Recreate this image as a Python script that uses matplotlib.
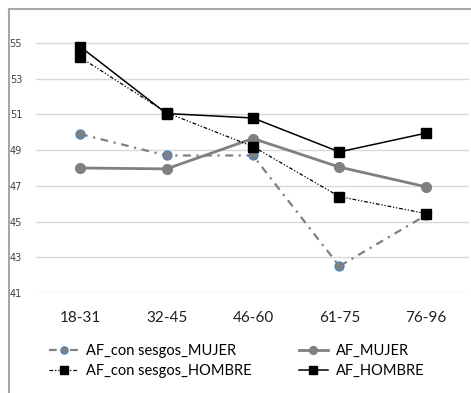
import matplotlib
matplotlib.use("Agg")
import matplotlib.pyplot as plt
from matplotlib.lines import Line2D

# age groups and series values
age_groups = ["18-31", "32-45", "46-60", "61-75", "76-96"]
af_sesgos_mujer = [49.9, 48.7, 48.7, 42.5, 45.35]
af_mujer = [48.0, 47.95, 49.65, 48.05, 46.95]
af_sesgos_hombre = [54.2, 51.1, 49.2, 46.4, 45.45]
af_hombre = [54.8, 51.05, 50.8, 48.9, 49.95]
y_ticks = [41, 43, 45, 47, 49, 51, 53, 55]

plt.rcParams["font.family"] = ["Lato", "DejaVu Sans"]

fig = plt.figure(figsize=(4.71, 3.93), dpi=100)
ax = fig.add_axes([36 / 471, 0.2545, 433 / 471, 0.7043])
xs = list(range(len(age_groups)))

ax.plot(xs, af_sesgos_mujer, color="#808080", lw=1.6,
        linestyle=(0, (3.5, 2.5, 1, 2.5)), marker="o", markersize=6.5,
        markerfacecolor="#808080", markeredgecolor="#4f81bd",
        markeredgewidth=0.9, label="AF_con sesgos_MUJER", zorder=3)
ax.plot(xs, af_mujer, color="#808080", lw=2.0, marker="o", markersize=7,
        markerfacecolor="#808080", markeredgecolor="#808080",
        label="AF_MUJER", zorder=3)
ax.plot(xs, af_sesgos_hombre, color="black", lw=0.9,
        linestyle=(0, (3, 1.5, 1, 1.5, 1, 1.5)), marker="s", markersize=7,
        markerfacecolor="black", markeredgecolor="black",
        label="AF_con sesgos_HOMBRE", zorder=4)
ax.plot(xs, af_hombre, color="black", lw=1.1, marker="s", markersize=7,
        markerfacecolor="black", markeredgecolor="black",
        label="AF_HOMBRE", zorder=4)

ax.set_xlim(-0.51, 4.5)
ax.set_ylim(41, 56.5)
ax.set_yticks(y_ticks)
ax.set_yticklabels([str(t) for t in y_ticks], fontsize=7, color="#404040",
                   family=["Liberation Sans Narrow", "DejaVu Sans"])
ax.set_xticks(xs)
ax.set_xticklabels(age_groups, fontsize=11, color="#202020")
ax.tick_params(axis="both", length=0)
ax.tick_params(axis="y", pad=10)
ax.tick_params(axis="x", pad=13)
ax.grid(axis="y", color="#d9d9d9", lw=1)
ax.set_axisbelow(True)
for spine in ax.spines.values():
    spine.set_visible(False)

# outer chart frame
fig.add_artist(Line2D([9 / 471, 9 / 471], [0, 1 - 9 / 393],
                      transform=fig.transFigure, color="#a6a6a6", lw=1.5))
fig.add_artist(Line2D([9 / 471, 1], [1 - 9 / 393, 1 - 9 / 393],
                      transform=fig.transFigure, color="#a6a6a6", lw=1.5))

handles, labels = ax.get_legend_handles_labels()
order = [0, 2, 1, 3]
fig.legend([handles[i] for i in order], [labels[i] for i in order],
           ncol=2, loc="upper left", bbox_to_anchor=(42 / 471, 1 - 337 / 393),
           frameon=False, fontsize=10.5, handlelength=2.0, handletextpad=0.55,
           columnspacing=3.2, labelspacing=0.4, borderpad=0, markerscale=0.8)

fig.savefig("out.png", dpi=100)
